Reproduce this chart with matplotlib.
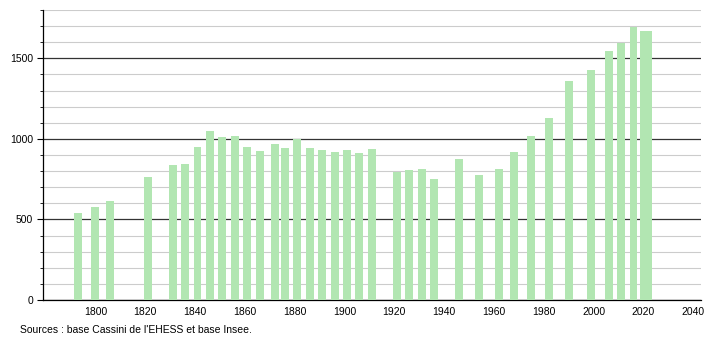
import matplotlib.pyplot as plt
from matplotlib.ticker import MultipleLocator

plt.rcParams["font.family"] = ["Liberation Sans", "DejaVu Sans"]

years = [1793, 1800, 1806, 1821, 1831, 1836, 1841, 1846, 1851, 1856,
         1861, 1866, 1872, 1876, 1881, 1886, 1891, 1896, 1901, 1906,
         1911, 1921, 1926, 1931, 1936, 1946, 1954, 1962, 1968, 1975,
         1982, 1990, 1999, 2006, 2011, 2016, 2021]
population = [539, 577, 614, 766, 838, 847, 952, 1050, 1010, 1015,
              952, 925, 971, 946, 1000, 946, 934, 919, 932, 915,
              938, 795, 807, 815, 751, 878, 776, 813, 919, 1021,
              1127, 1357, 1426, 1544, 1598, 1695, 1668]
source = "Sources : base Cassini de l'EHESS et base Insee."

fig = plt.figure(figsize=(7.1, 3.4), dpi=100)
ax = fig.add_axes([0.0606, 0.1176, 0.9264, 0.853])

widths = [3.2] * len(years)
widths[-1] = 4.8
ax.bar(years, population, width=widths, color="#b2e6b2", zorder=3)

ax.set_xlim(1779, 2043)
ax.set_ylim(0, 1800)
ax.xaxis.set_major_locator(MultipleLocator(20))
ax.xaxis.set_major_formatter(lambda v, p: "" if v < 1800 else f"{int(v)}")
ax.yaxis.set_major_locator(MultipleLocator(500))
ax.yaxis.set_minor_locator(MultipleLocator(100))

ax.grid(axis="y", which="minor", color="#cccccc", linewidth=0.8, zorder=1)
ax.grid(axis="y", which="major", color="#333333", linewidth=0.9, zorder=2)

for side in ("top", "right"):
    ax.spines[side].set_visible(False)
for side in ("left", "bottom"):
    ax.spines[side].set_color("black")
    ax.spines[side].set_linewidth(0.9)

ax.tick_params(axis="x", length=0, labelsize=7.5, pad=5)
ax.tick_params(axis="y", which="major", length=4, labelsize=7.5, pad=3)
ax.tick_params(axis="y", which="minor", length=2)

fig.text(0.028, 0.035 - 0.02, source, fontsize=7.5, ha="left", va="bottom")

fig.savefig("out.png", dpi=100)
